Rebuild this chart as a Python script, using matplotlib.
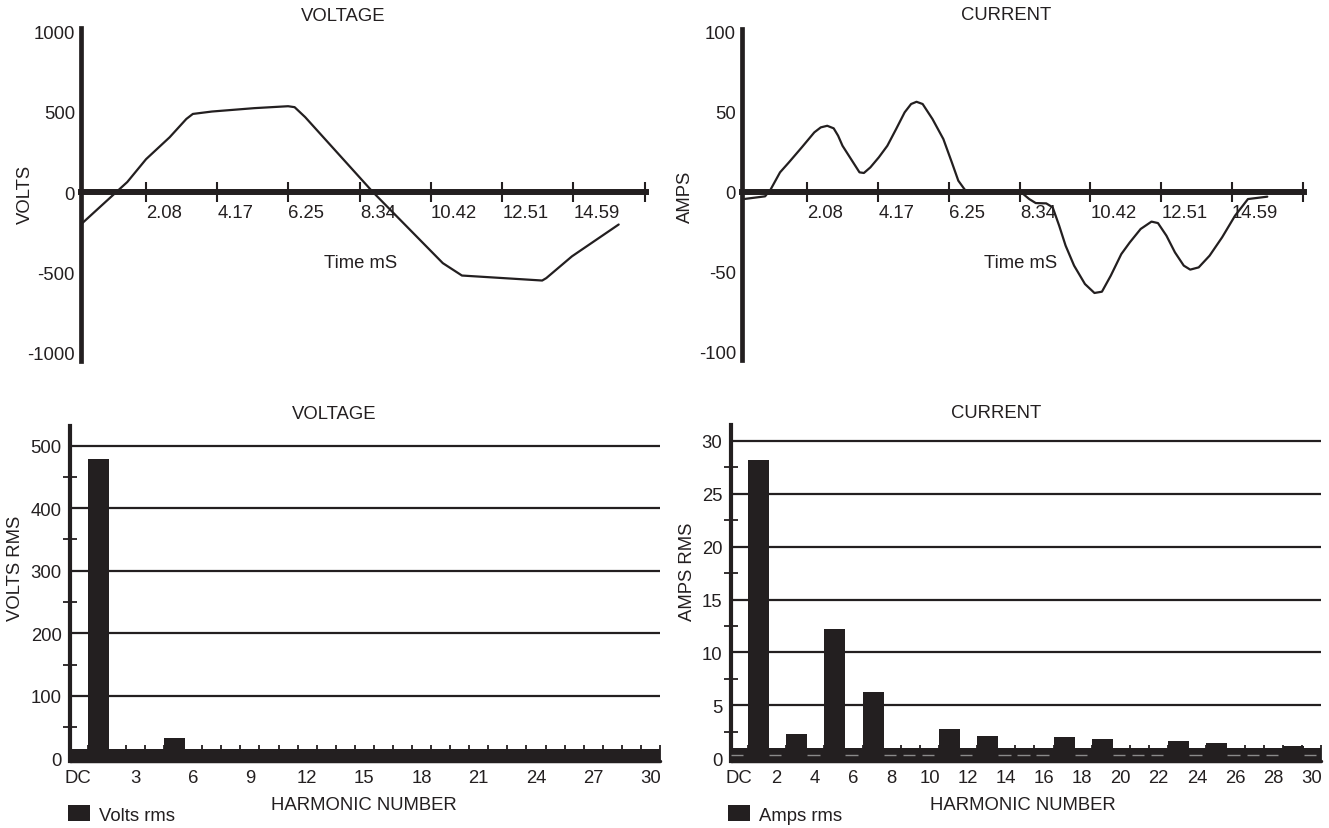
import matplotlib
matplotlib.use('Agg')
import matplotlib.pyplot as plt
import numpy as np
from matplotlib.patches import Patch

plt.rcParams['font.family'] = ['Liberation Sans', 'DejaVu Sans']
plt.rcParams['axes.unicode_minus'] = False
INK = '#231f20'
FS = 13.3

# ---------------- data ----------------
v_time = [0.22, 1.53, 2.08, 2.77, 3.26, 3.45, 4.01, 5.25, 6.24, 6.43, 6.74,
          8.72, 10.77, 11.33, 13.68, 13.80, 14.55, 15.92]
v_volts = [-192, 62, 204, 340, 454, 485, 500, 521, 533, 527, 465,
           0, -442, -519, -550, -535, -400, -202]

i_time = [0.21, 0.84, 1.00, 1.28, 1.54, 1.92, 2.29, 2.48, 2.67, 2.86, 2.99,
          3.12, 3.37, 3.62, 3.75, 3.94, 4.19, 4.44, 4.70, 4.95, 5.14, 5.30,
          5.48, 5.77, 6.09, 6.34, 6.53, 6.72, 6.85, 8.36, 8.62, 8.81, 9.12,
          9.31, 9.50, 9.69, 9.94, 10.26, 10.54, 10.76, 11.02, 11.33, 11.58,
          11.90, 12.22, 12.41, 12.66, 12.91, 13.17, 13.36, 13.61, 13.93,
          14.30, 14.68, 15.06, 15.63]
i_amps = [-4.6, -2.9, 1.3, 12.1, 18.3, 27.7, 37.1, 40.2, 41.2, 39.6, 35.0,
          28.7, 20.4, 12.1, 11.7, 15.2, 21.5, 28.7, 39.2, 49.6, 54.8, 56.2,
          54.8, 45.4, 32.9, 18.3, 6.9, 1.3, 0.0, 0.0, -4.6, -7.1, -7.3,
          -9.8, -21.2, -33.7, -46.2, -57.7, -63.3, -62.5, -52.5, -39.0, -31.7,
          -23.3, -18.7, -19.6, -27.5, -37.9, -46.2, -48.7, -47.3, -40.0,
          -28.5, -15.0, -4.6, -3.1]

time_ticks = [2.08, 4.17, 6.25, 8.34, 10.42, 12.51, 14.59, 16.68]
time_labels = ['2.08', '4.17', '6.25', '8.34', '10.42', '12.51', '14.59', '']
volt_wave_ticks = [-1000, -500, 0, 500, 1000]
amp_wave_ticks = [-100, -50, 0, 50, 100]

harmonics = list(range(31))
volts_rms = [15, 478, 15, 15, 15, 32, 15, 15, 15, 15, 15, 15, 15, 15, 15, 15,
             15, 15, 15, 15, 15, 15, 15, 15, 15, 15, 15, 15, 15, 15, 15]
amps_rms = [1.0, 28.2, 1.0, 2.26, 1.0, 12.2, 1.0, 6.3, 1.0, 1.0, 1.0, 2.77,
            1.0, 2.14, 1.0, 1.0, 1.0, 1.98, 1.0, 1.79, 1.0, 1.0, 1.0, 1.64,
            1.0, 1.45, 1.0, 1.0, 1.0, 1.16, 1.0]

volt_h_ticks = [0, 3, 6, 9, 12, 15, 18, 21, 24, 27, 30]
volt_h_labels = ['DC', '3', '6', '9', '12', '15', '18', '21', '24', '27', '30']
amp_h_ticks = [0, 2, 4, 6, 8, 10, 12, 14, 16, 18, 20, 22, 24, 26, 28, 30]
amp_h_labels = ['DC'] + [str(v) for v in amp_h_ticks[1:]]

volt_rms_major = [0, 100, 200, 300, 400, 500]
volt_rms_minor = [50, 150, 250, 350, 450]
amp_rms_major = [0, 5, 10, 15, 20, 25, 30]
amp_rms_minor = [2.5, 7.5, 12.5, 17.5, 22.5, 27.5]

# ---------------- figure ----------------
W, H = 1329, 829
fig = plt.figure(figsize=(W / 100, H / 100), dpi=100)


def axes_px(x0, y0, x1, y1):
    return fig.add_axes([x0 / W, 1 - y1 / H, (x1 - x0) / W, (y1 - y0) / H])


def ftext(x, y, s, **kw):
    fig.text(x / W, 1 - y / H, s, fontsize=FS, color=INK,
             ha='center', va='center', **kw)


def wave(ax, t, y, xlim, ylim, ybounds, yticks):
    ax.plot(t, y, color=INK, lw=1.6, solid_joinstyle='round',
            solid_capstyle='round')
    ax.set_xlim(*xlim)
    ax.set_ylim(*ylim)
    ax.patch.set_visible(False)
    for s in ['top', 'right']:
        ax.spines[s].set_visible(False)
    ax.spines['bottom'].set_position(('data', 0))
    ax.spines['bottom'].set_linewidth(4.3)
    ax.spines['bottom'].set_color(INK)
    ax.spines['left'].set_linewidth(3.4)
    ax.spines['left'].set_color(INK)
    ax.spines['left'].set_bounds(*ybounds)
    ax.set_xticks(time_ticks)
    ax.set_xticklabels(time_labels)
    ax.tick_params(axis='x', direction='inout', length=15, width=1.5,
                   pad=1.5, labelsize=FS, colors=INK)
    for lab in ax.get_xticklabels():
        lab.set_horizontalalignment('left')
    ax.set_yticks(yticks)
    ax.tick_params(axis='y', length=0, pad=4, labelsize=FS, colors=INK)


def bars(ax, vals, xlim, ylim, major_y, minor_y, xt, xl):
    ybot = ylim[0]
    lefts = np.array(harmonics) - 0.5
    ax.bar(lefts, np.array(vals) - ybot, bottom=ybot, width=1.1,
           align='edge', color=INK, edgecolor='none', zorder=2)
    ax.set_xlim(*xlim)
    ax.set_ylim(*ylim)
    ax.patch.set_visible(False)
    ax.set_axisbelow(True)
    for s in ['top', 'right']:
        ax.spines[s].set_visible(False)
    ax.spines['left'].set_linewidth(3.0)
    ax.spines['left'].set_color(INK)
    ax.spines['bottom'].set_linewidth(2.5)
    ax.spines['bottom'].set_color(INK)
    ax.spines['bottom'].set_capstyle('round')
    ax.set_yticks(major_y)
    ax.set_yticks(minor_y, minor=True)
    ax.yaxis.grid(True, which='major', color=INK, lw=1.6)
    ax.tick_params(axis='y', which='major', length=0, pad=6,
                   labelsize=FS, colors=INK)
    ax.tick_params(axis='y', which='minor', direction='inout', length=9.5,
                   width=1.3, color=INK)
    ax.set_xticks(xt)
    ax.set_xticklabels(xl)
    ax.set_xticks([h + 0.5 for h in harmonics], minor=True)
    ax.tick_params(axis='x', which='major', length=0, pad=6,
                   labelsize=FS, colors=INK)
    ax.tick_params(axis='x', which='minor', direction='in', length=11.5,
                   width=1.3, color=INK)


# ---- top left: voltage waveform ----
ax1 = axes_px(80.5, 24, 646, 362)
wave(ax1, v_time, v_volts, (0.16, 16.72), (-1050, 1050), (-1050, 1020),
     volt_wave_ticks)

# ---- top right: current waveform ----
ax2 = axes_px(741.5, 24.7, 1304.3, 360.7)
wave(ax2, i_time, i_amps, (0.145, 16.72), (-105, 105), (-105, 102),
     amp_wave_ticks)

# ---- bottom left: voltage harmonics ----
ax3 = axes_px(69.9, 426.7, 660, 762)
bars(ax3, volts_rms, (-0.44, 30.3), (-4.3, 532),
     volt_rms_major, volt_rms_minor, volt_h_ticks, volt_h_labels)

# ---- bottom right: current harmonics ----
ax4 = axes_px(730.8, 426, 1321, 762)
bars(ax4, amps_rms, (-0.4, 30.5), (-0.26, 31.5),
     amp_rms_major, amp_rms_minor, amp_h_ticks, amp_h_labels)
floor_h = [h for h, v in zip(harmonics, amps_rms) if v <= 1.0]
ax4.hlines([0.35] * len(floor_h), [h - 0.4 for h in floor_h],
           [h + 0.25 for h in floor_h], colors='#8a8a8a', lw=1.0, zorder=3)

# ---- texts ----
ftext(343.6, 16.3, 'VOLTAGE')
ftext(1006.6, 16.0, 'CURRENT')
ftext(334, 415, 'VOLTAGE')
ftext(996, 414, 'CURRENT')
ftext(361, 264, 'Time mS')
ftext(1020.5, 263.7, 'Time mS')
ftext(25.4, 194, 'VOLTS', rotation=90)
ftext(685.7, 197, 'AMPS', rotation=90)
ftext(16, 568, 'VOLTS RMS', rotation=90)
ftext(688, 571.7, 'AMPS RMS', rotation=90)
ftext(364, 806, 'HARMONIC NUMBER')
ftext(1022.7, 806, 'HARMONIC NUMBER')

for x0, lab in [(68.3, 'Volts rms'), (728.0, 'Amps rms')]:
    fig.legend(handles=[Patch(facecolor=INK, edgecolor='none', label=lab)],
               loc='center left', bbox_to_anchor=(x0 / W, 1 - 815.5 / H),
               frameon=False, fontsize=FS, labelcolor=INK,
               handlelength=1.17, handleheight=0.97, handletextpad=0.5,
               borderpad=0, borderaxespad=0)

fig.savefig('out.png', dpi=100, facecolor='white')
